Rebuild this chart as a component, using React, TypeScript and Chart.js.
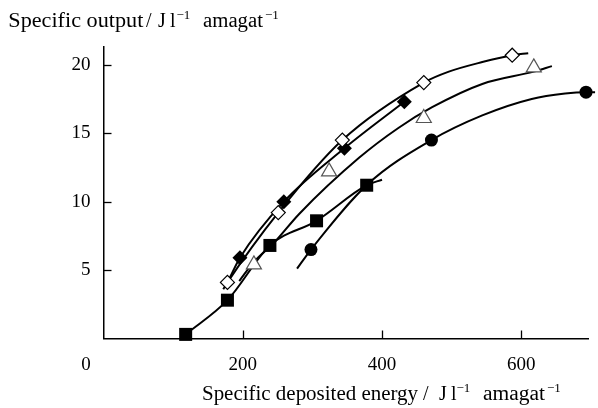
import { useEffect, useRef } from 'react';
import { Chart, registerables } from 'chart.js';

Chart.register(...registerables);

// Measured points (specific deposited energy, specific output)
const squareX = [118, 178, 239, 306, 378];
const squareY = [0.3, 2.8, 6.8, 8.6, 11.2];

const circleX = [298, 471, 693];
const circleY = [6.5, 14.5, 18.0];

const triangleX = [216, 324, 460, 618];
const triangleY = [5.4, 12.2, 16.1, 19.8];

const openDiamondX = [178, 251, 343, 460, 587];
const openDiamondY = [4.1, 9.2, 14.5, 18.7, 20.7];

const filledDiamondX = [196, 259, 346, 432];
const filledDiamondY = [5.9, 10.0, 13.9, 17.3];

// Hand-drawn trend curves through each group
const squareCurveX = [118, 178, 239, 306, 378, 400];
const squareCurveY = [0.3, 2.8, 6.8, 8.6, 11.2, 11.6];

const circleCurveX = [278, 298, 380, 471, 544, 615, 663, 693, 706];
const circleCurveY = [5.1, 6.5, 11.3, 14.5, 16.3, 17.5, 17.9, 18.0, 18.0];

const triangleCurveX = [195, 216, 245, 281, 367, 424, 472, 544, 618, 644];
const triangleCurveY = [4.2, 5.6, 7.0, 9.1, 13.2, 15.4, 16.9, 18.6, 19.5, 19.9];

const openDiamondCurveX = [172, 178, 251, 343, 460, 496, 544, 587, 610];
const openDiamondCurveY = [3.6, 4.1, 9.2, 14.5, 18.7, 19.5, 20.2, 20.7, 20.85];

const filledDiamondCurveX = [181, 196, 259, 346, 432];
const filledDiamondCurveY = [4.4, 5.9, 10.0, 13.9, 17.3];

const xTickValues = [0, 200, 400, 600];
const yTickValues = [0, 5, 10, 15, 20];
const xMax = 696;
const yMax = 21.3;

const SERIF = '"Liberation Serif", "Times New Roman", serif';
const TICK_FONT_SIZE = 19;
const X_TICK_PAD = 15;

const pts = (xs: number[], ys: number[]) => xs.map((x, i) => ({ x, y: ys[i] }));

// Title pieces: text, left edge, optional fitted width, superscript flag
type Piece = { t: string; x: number; w?: number; sup?: boolean };

const yTitle: Piece[] = [
  { t: 'Specific output', x: 8.3, w: 135 },
  { t: '/', x: 146 },
  { t: 'J', x: 158 },
  { t: 'l', x: 170 },
  { t: '\u22121', x: 176.5, sup: true },
  { t: 'amagat', x: 203, w: 60 },
  { t: '\u22121', x: 265, sup: true },
];

const xTitle: Piece[] = [
  { t: 'Specific deposited energy', x: 202, w: 216 },
  { t: '/', x: 423 },
  { t: 'J', x: 439 },
  { t: 'l', x: 451 },
  { t: '\u22121', x: 456.5, sup: true },
  { t: 'amagat', x: 483, w: 62 },
  { t: '\u22121', x: 547, sup: true },
];

function drawPieces(ctx: CanvasRenderingContext2D, pieces: Piece[], baseline: number) {
  ctx.textAlign = 'left';
  ctx.textBaseline = 'alphabetic';
  ctx.fillStyle = '#000';
  for (const p of pieces) {
    ctx.font = p.sup ? `13px ${SERIF}` : `20px ${SERIF}`;
    const y = p.sup ? baseline - 8 : baseline;
    if (p.w) {
      const natural = ctx.measureText(p.t).width;
      ctx.save();
      ctx.translate(p.x, y);
      ctx.scale(p.w / natural, 1);
      ctx.fillText(p.t, 0, 0);
      ctx.restore();
    } else {
      ctx.fillText(p.t, p.x, y);
    }
  }
}

const axisDecor = {
  id: 'axisDecor',
  afterDraw(chart: any) {
    const ctx: CanvasRenderingContext2D = chart.ctx;
    const xs = chart.scales.x;
    const ys = chart.scales.y;
    const area = chart.chartArea;
    ctx.save();
    ctx.strokeStyle = '#000';
    ctx.lineWidth = 1.3;
    // inward tick marks
    for (const v of xTickValues) {
      if (v === 0) continue;
      const px = Math.round(xs.getPixelForValue(v)) + 0.5;
      ctx.beginPath();
      ctx.moveTo(px, area.bottom);
      ctx.lineTo(px, area.bottom - 8);
      ctx.stroke();
    }
    for (const v of yTickValues) {
      if (v === 0) continue;
      const py = Math.round(ys.getPixelForValue(v)) + 0.5;
      ctx.beginPath();
      ctx.moveTo(area.left, py);
      ctx.lineTo(area.left + 8, py);
      ctx.stroke();
    }
    // shared origin label
    ctx.font = `${TICK_FONT_SIZE}px ${SERIF}`;
    ctx.fillStyle = '#000';
    ctx.textAlign = 'center';
    ctx.textBaseline = 'middle';
    ctx.fillText('0', 86, xs.top + X_TICK_PAD + (TICK_FONT_SIZE * 1.2) / 2);
    // axis titles with superscripts
    drawPieces(ctx, yTitle, 26.7);
    drawPieces(ctx, xTitle, 400);
    ctx.restore();
  },
};

const curve = (xs: number[], ys: number[]) => ({
  data: pts(xs, ys),
  showLine: true,
  borderColor: '#000',
  borderWidth: 2,
  pointRadius: 0,
  cubicInterpolationMode: 'monotone' as const,
  fill: false,
  clip: false as any,
  order: 2,
});

const marker = (xs: number[], ys: number[], style: any) => ({
  data: pts(xs, ys),
  showLine: false,
  clip: false as any,
  order: 1,
  ...style,
});

export default function App() {
  const canvasRef = useRef<HTMLCanvasElement | null>(null);

  useEffect(() => {
    if (!canvasRef.current) return;
    const chart = new Chart(canvasRef.current, {
      type: 'scatter',
      data: {
        datasets: [
          marker(squareX, squareY, {
            pointStyle: 'rect', pointRadius: 9.2, backgroundColor: '#000', borderColor: '#000', borderWidth: 0,
          }),
          marker(circleX, circleY, {
            pointStyle: 'circle', pointRadius: 6.5, backgroundColor: '#000', borderColor: '#000', borderWidth: 0,
          }),
          marker(triangleX, triangleY, {
            pointStyle: 'triangle', pointRadius: 8.7, backgroundColor: '#fff', borderColor: '#555', borderWidth: 1.2,
          }),
          marker(openDiamondX, openDiamondY, {
            pointStyle: 'rectRot', pointRadius: 7, backgroundColor: '#fff', borderColor: '#000', borderWidth: 1.2,
          }),
          marker(filledDiamondX, filledDiamondY, {
            pointStyle: 'rectRot', pointRadius: 7.5, backgroundColor: '#000', borderColor: '#000', borderWidth: 0,
          }),
          curve(squareCurveX, squareCurveY),
          curve(circleCurveX, circleCurveY),
          curve(triangleCurveX, triangleCurveY),
          curve(openDiamondCurveX, openDiamondCurveY),
          curve(filledDiamondCurveX, filledDiamondCurveY),
        ] as any,
      },
      options: {
        animation: false,
        responsive: false,
        devicePixelRatio: 1,
        layout: { padding: { left: 0, right: 9, top: 47, bottom: 0 } },
        plugins: {
          legend: { display: false },
          tooltip: { enabled: false },
        },
        scales: {
          x: {
            type: 'linear',
            min: 0,
            max: xMax,
            grid: { display: false, drawTicks: false },
            border: { display: true, color: '#000', width: 1.5 },
            afterBuildTicks: (s: any) => {
              s.ticks = xTickValues.map((v) => ({ value: v }));
            },
            afterFit: (s: any) => {
              s.height = 69.5;
            },
            ticks: {
              color: '#000',
              padding: X_TICK_PAD,
              maxRotation: 0,
              font: { family: SERIF, size: TICK_FONT_SIZE },
              callback: (v: any) => (v === 0 ? '' : String(v)),
            },
          },
          y: {
            type: 'linear',
            min: 0,
            max: yMax,
            grid: { display: false, drawTicks: false },
            border: { display: true, color: '#000', width: 1.5 },
            afterBuildTicks: (s: any) => {
              s.ticks = yTickValues.map((v) => ({ value: v }));
            },
            afterFit: (s: any) => {
              s.width = 103.5;
            },
            ticks: {
              color: '#000',
              padding: 13,
              font: { family: SERIF, size: TICK_FONT_SIZE },
              callback: (v: any) => (v === 0 ? '' : String(v)),
            },
          },
        },
      },
      plugins: [axisDecor],
    });
    return () => chart.destroy();
  }, []);

  return (
    <div style={{ position: 'absolute', left: 0, top: 0, width: 598, height: 408, background: '#fff' }}>
      <canvas ref={canvasRef} width={598} height={408} />
    </div>
  );
}
